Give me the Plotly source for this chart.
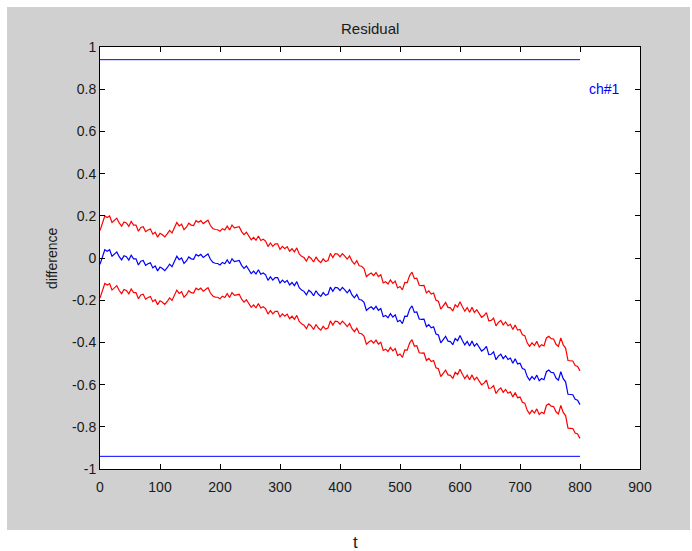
import plotly.graph_objects as go

# Sample times and residual trace
t = list(range(0, 801, 4))
residual = [
    -0.030, 0.002, 0.039, 0.032, 0.039, 0.008, 0.020, 0.029, 0.006, -0.009,
    0.011, 0.006, -0.010, 0.013, -0.004, -0.004, -0.033, -0.015, -0.012, -0.035,
    -0.027, -0.023, -0.047, -0.038, -0.061, -0.043, -0.050, -0.060, -0.046, -0.029,
    -0.041, -0.012, 0.008, -0.008, 0.000, -0.026, -0.014, 0.005, -0.004, -0.006,
    0.017, 0.009, 0.017, 0.003, 0.013, 0.019, -0.006, -0.020, -0.025, -0.026,
    -0.033, -0.021, -0.027, -0.009, -0.027, -0.004, -0.017, -0.013, -0.012, -0.035,
    -0.049, -0.038, -0.055, -0.074, -0.062, -0.076, -0.056, -0.077, -0.071, -0.080,
    -0.106, -0.089, -0.105, -0.093, -0.093, -0.119, -0.105, -0.116, -0.106, -0.128,
    -0.116, -0.131, -0.112, -0.141, -0.152, -0.158, -0.175, -0.153, -0.162, -0.179,
    -0.155, -0.172, -0.182, -0.164, -0.177, -0.172, -0.138, -0.158, -0.139, -0.141,
    -0.154, -0.139, -0.151, -0.165, -0.150, -0.175, -0.189, -0.173, -0.197, -0.199,
    -0.210, -0.248, -0.238, -0.231, -0.243, -0.229, -0.248, -0.239, -0.278, -0.272,
    -0.283, -0.264, -0.280, -0.269, -0.302, -0.295, -0.311, -0.276, -0.277, -0.243,
    -0.227, -0.258, -0.256, -0.289, -0.291, -0.290, -0.326, -0.316, -0.331, -0.326,
    -0.360, -0.365, -0.402, -0.387, -0.371, -0.394, -0.396, -0.411, -0.382, -0.392,
    -0.367, -0.391, -0.412, -0.395, -0.417, -0.394, -0.418, -0.405, -0.421, -0.441,
    -0.433, -0.419, -0.458, -0.456, -0.445, -0.482, -0.465, -0.456, -0.477, -0.463,
    -0.481, -0.474, -0.499, -0.478, -0.502, -0.499, -0.524, -0.528, -0.562, -0.579,
    -0.562, -0.575, -0.555, -0.582, -0.571, -0.577, -0.539, -0.531, -0.542, -0.544,
    -0.569, -0.579, -0.539, -0.572, -0.587, -0.646, -0.647, -0.648, -0.670, -0.674,
    -0.695,
]

# Half-width of the confidence band around the residual
band = 0.16
# Alarm threshold (drawn at +/- this value)
limit = 0.94
limit_t = [0, 800]

x_ticks = [0, 100, 200, 300, 400, 500, 600, 700, 800, 900]
x_tick_labels = ["0", "100", "200", "300", "400", "500", "600", "700", "800", "900"]
y_ticks = [-1, -0.8, -0.6, -0.4, -0.2, 0, 0.2, 0.4, 0.6, 0.8, 1]
y_tick_labels = ["-1", "-0.8", "-0.6", "-0.4", "-0.2", "0", "0.2", "0.4", "0.6", "0.8", "1"]

upper = [r + band for r in residual]
lower = [r - band for r in residual]

FONT = "Liberation Sans, Arial, sans-serif"
BLUE = "#0000ff"
RED = "#ff0000"
FIG_GREY = "#d0d0d0"

fig = go.Figure()
fig.add_trace(go.Scatter(x=t, y=residual, mode="lines", line=dict(color=BLUE, width=1.2)))
fig.add_trace(go.Scatter(x=t, y=upper, mode="lines", line=dict(color=RED, width=1.2)))
fig.add_trace(go.Scatter(x=t, y=lower, mode="lines", line=dict(color=RED, width=1.2)))
fig.add_trace(go.Scatter(x=limit_t, y=[limit, limit], mode="lines", line=dict(color=BLUE, width=1)))
fig.add_trace(go.Scatter(x=limit_t, y=[-limit, -limit], mode="lines", line=dict(color=BLUE, width=1)))

axis_common = dict(
    ticks="inside", ticklen=5, tickcolor="#000000", tickwidth=1,
    showline=True, linecolor="#000000", linewidth=1, mirror="ticks",
    showgrid=False, zeroline=False,
    tickfont=dict(family=FONT, size=14, color="#1a1a1a"),
)

# White border strips around the grey figure panel
white = dict(type="rect", xref="paper", yref="paper",
             fillcolor="#ffffff", line=dict(width=0), layer="below")
border = [
    dict(white, x0=-0.3, x1=1.3, y0=1.0948, y1=1.3),    # top
    dict(white, x0=-0.3, x1=1.3, y0=-0.3, y1=-0.1445),  # bottom
    dict(white, x0=-0.3, x1=-0.1722, y0=-0.3, y1=1.3),  # left
    dict(white, x0=1.0926, x1=1.3, y0=-0.3, y1=1.3),    # right
]

fig.update_layout(
    width=692, height=551,
    margin=dict(l=100, r=52, t=47, b=82),
    paper_bgcolor=FIG_GREY, plot_bgcolor="#ffffff",
    showlegend=False,
    xaxis=dict(range=[0, 900], tickvals=x_ticks, ticktext=x_tick_labels,
               ticklabelstandoff=5, **axis_common),
    yaxis=dict(range=[-1, 1], tickvals=y_ticks, ticktext=y_tick_labels, **axis_common),
    shapes=border,
    annotations=[
        dict(text="Residual", xref="paper", yref="paper", x=0.5, y=1.045,
             xanchor="center", yanchor="middle", showarrow=False,
             font=dict(family=FONT, size=15, color="#1a1a1a")),
        dict(text="difference", xref="paper", yref="paper", x=-0.089, y=0.5,
             xanchor="center", yanchor="middle", textangle=-90, showarrow=False,
             font=dict(family=FONT, size=14, color="#1a1a1a")),
        dict(text="t", xref="paper", yref="paper", x=0.474, y=-0.175,
             xanchor="center", yanchor="middle", showarrow=False,
             font=dict(family=FONT, size=17, color="#1a1a1a")),
        dict(text="ch#1", xref="x", yref="y", x=812, y=0.8,
             xanchor="left", yanchor="middle", showarrow=False,
             font=dict(family=FONT, size=14, color=BLUE)),
    ],
)

fig.write_html("out.html", config={"displayModeBar": False})
